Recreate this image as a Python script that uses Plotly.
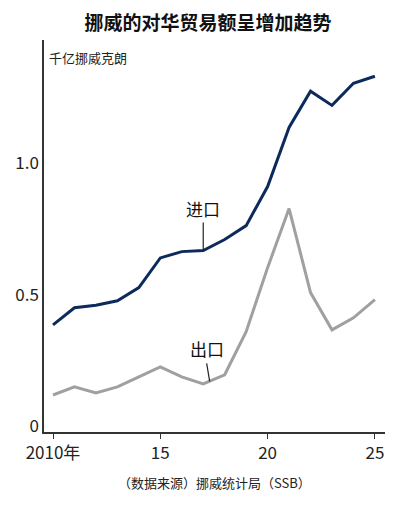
import plotly.graph_objects as go

years = list(range(2010, 2026))
imports = [0.385, 0.45, 0.46, 0.477, 0.527, 0.64, 0.664, 0.668, 0.71, 0.763, 0.912, 1.137, 1.275, 1.221, 1.305, 1.332]
exports = [0.118, 0.149, 0.126, 0.149, 0.187, 0.225, 0.187, 0.16, 0.195, 0.359, 0.603, 0.828, 0.508, 0.366, 0.412, 0.481]
xtickvals = [2010, 2015, 2020, 2025]
xticktext = ["2010年", "15", "20", "25"]

font = "Noto Sans CJK SC"
fig = go.Figure()
fig.add_trace(go.Scatter(x=years, y=exports, mode="lines", line=dict(color="#a0a0a0", width=3)))
fig.add_trace(go.Scatter(x=years, y=imports, mode="lines", line=dict(color="#0d2a5c", width=3)))

fig.update_layout(
    width=400, height=507, margin=dict(l=36, r=23, t=32, b=83, autoexpand=False),
    paper_bgcolor="white", plot_bgcolor="white", showlegend=False,
    font=dict(family=font, color="#222"),
    title=dict(text="<b>挪威的对华贸易额呈增加趋势</b>", x=0.5, xanchor="center", y=0.982, font=dict(size=19, color="#111")),
)
fig.update_xaxes(range=[2009.58, 2025.47], tickvals=xtickvals, ticktext=xticktext, showline=True,
                 linecolor="#333", linewidth=1.5, ticks="outside", ticklen=5, tickcolor="#333",
                 showgrid=False, zeroline=False, tickfont=dict(size=17, family=font), automargin=False)
fig.update_yaxes(range=[-0.023, 1.47], tickvals=[0, 0.5, 1.0], ticktext=["0", "0.5", "1.0"], showline=True,
                 linecolor="#333", linewidth=1.5, ticks="", showgrid=False, zeroline=False,
                 tickfont=dict(size=17, family=font), automargin=False)

fig.add_annotation(x=0.01, y=0.985, xref="paper", yref="paper", text="千亿挪威克朗", showarrow=False,
                   xanchor="left", yanchor="top", font=dict(size=13, family=font, color="#222"))
fig.add_annotation(x=2017, y=imports[7], text="进口", showarrow=True, arrowhead=0, arrowwidth=1.2,
                   arrowcolor="#222", ax=0, ay=-28, yanchor="bottom", font=dict(size=17, family=font, color="#111"))
fig.add_annotation(x=2017.3, y=0.17, text="出口", showarrow=True, arrowhead=0, arrowwidth=1.2,
                   arrowcolor="#222", ax=-3, ay=-18, yanchor="bottom", font=dict(size=17, family=font, color="#111"))
fig.add_annotation(x=0.5, y=-0.10, xref="paper", yref="paper", text="（数据来源）挪威统计局（SSB）",
                   showarrow=False, yanchor="top", font=dict(size=13, family=font, color="#222"))

fig.write_html("out.html")
